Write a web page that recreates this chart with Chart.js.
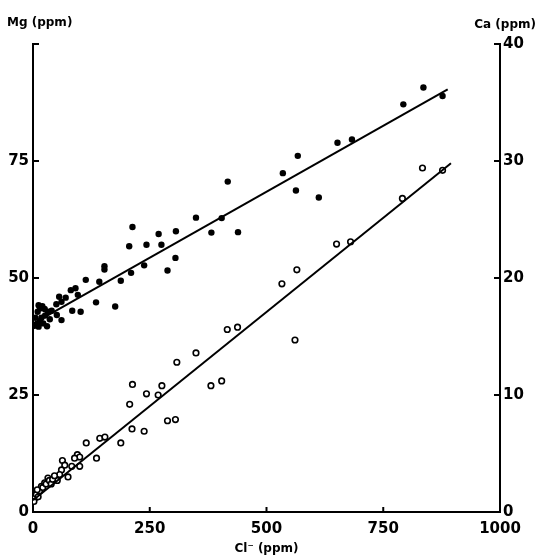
<!DOCTYPE html>
<html>
<head>
<meta charset="utf-8">
<script src="https://cdn.jsdelivr.net/npm/chart.js@4"></script>
<style>
  body{ margin:0; background:#fff; }
  #wrap{ width:538px; height:560px; position:relative; }
</style>
</head>
<body>
<div id="wrap"><canvas id="chart"></canvas></div>
<script>

/* DATA */

// Mg (filled dots, left axis)
const mgX = [
  836, 877, 793, 683, 652, 567, 535, 563, 612,
  417, 349, 404, 439, 382, 213, 269, 306, 206, 243, 275, 305, 288, 238, 210,
  153, 153, 142, 188, 113, 135, 176, 102, 84, 91, 81, 96, 70, 56, 61, 50, 51, 61,
  3, 8, 12, 15, 18, 22, 26, 30, 10, 15, 20, 25, 32, 36, 5, 12, 40
];
const mgY = [
  90.7, 88.9, 87.1, 79.6, 78.9, 76.1, 72.4, 68.7, 67.2,
  70.6, 62.9, 62.8, 59.8, 59.7, 60.9, 59.4, 60.0, 56.8, 57.1, 57.1, 54.3, 51.6, 52.7, 51.1,
  52.5, 51.8, 49.2, 49.4, 49.6, 44.8, 43.9, 42.8, 43.0, 47.8, 47.4, 46.4, 45.8, 46.0, 44.9, 44.4, 42.1, 41.0,
  39.8, 40.2, 39.6, 40.8, 41.5, 40.3, 42.0, 39.7, 42.8, 43.5, 44.0, 43.4, 42.8, 41.2, 41.5, 44.2, 43.0
];

// Ca (open circles, right axis)
const caX = [
  834, 877, 791, 650, 680, 565, 533, 561,
  416, 438, 349, 308, 213, 276, 243, 268, 381, 404, 207, 288, 305, 212, 238, 188,
  143, 154, 136, 114, 95, 100, 89, 63, 100, 68, 61, 57, 75, 52, 83,
  4, 7, 11, 14, 18, 21, 25, 28, 32, 35, 39, 42, 2, 9, 46
];
const caY = [
  29.4, 29.2, 26.8, 22.9, 23.1, 20.7, 19.5, 14.7,
  15.6, 15.8, 13.6, 12.8, 10.9, 10.8, 10.1, 10.0, 10.8, 11.2, 9.2, 7.8, 7.9, 7.1, 6.9, 5.9,
  6.3, 6.4, 4.6, 5.9, 4.9, 4.7, 4.6, 4.4, 3.9, 4.0, 3.6, 3.2, 3.0, 2.7, 3.9,
  1.2, 1.5, 1.3, 1.8, 2.2, 2.1, 2.5, 2.4, 2.9, 2.7, 2.4, 2.8, 0.9, 1.9, 3.1
];

// fitted lines (end points)
const mgLineX = [5, 888];
const mgLineY = [40.5, 90.3];
const caLineX = [0, 895];
const caLineY = [1.0, 29.8];

// axes
const xTicks = [0, 250, 500, 750, 1000];
const mgTicks = [0, 25, 50, 75, 100];
const caTicks = [0, 10, 20, 30, 40];

const toPoints = (xs, ys) => xs.map((x, i) => ({ x: x, y: ys[i] }));

const FONT = "'DejaVu Sans', sans-serif";

/* PLUGIN: inward tick marks + top axis labels */

const extras = {
  id: "extras",
  afterDraw(chart){

    const ctx = chart.ctx;
    const area = chart.chartArea;
    const sx = chart.scales.x;
    const sm = chart.scales.yMg;
    const sc = chart.scales.yCa;

    ctx.save();
    ctx.strokeStyle = "#000";
    ctx.lineWidth = 2;

    mgTicks.forEach(v => {
      const y = sm.getPixelForValue(v);
      ctx.beginPath();
      ctx.moveTo(area.left, y);
      ctx.lineTo(area.left + 6, y);
      ctx.stroke();
    });

    caTicks.forEach(v => {
      const y = sc.getPixelForValue(v);
      ctx.beginPath();
      ctx.moveTo(area.right - 6, y);
      ctx.lineTo(area.right, y);
      ctx.stroke();
    });

    xTicks.slice(1, -1).forEach(v => {
      const x = sx.getPixelForValue(v);
      ctx.beginPath();
      ctx.moveTo(x, area.bottom);
      ctx.lineTo(x, area.bottom - 5);
      ctx.stroke();
    });

    ctx.fillStyle = "#000";
    ctx.font = "bold 12px " + FONT;
    ctx.textBaseline = "middle";
    ctx.textAlign = "left";
    ctx.fillText("Mg (ppm)", 7, 23);
    ctx.textAlign = "right";
    ctx.fillText("Ca (ppm)", 536, 25);

    ctx.restore();
  }
};

/* CHART */

new Chart(document.getElementById("chart"), {

  type: "scatter",

  data: {
    datasets: [
      {
        label: "Mg line",
        type: "line",
        data: toPoints(mgLineX, mgLineY),
        yAxisID: "yMg",
        borderColor: "#000",
        borderWidth: 2,
        pointRadius: 0,
        fill: false
      },
      {
        label: "Ca line",
        type: "line",
        data: toPoints(caLineX, caLineY),
        yAxisID: "yCa",
        borderColor: "#000",
        borderWidth: 2,
        pointRadius: 0,
        fill: false
      },
      {
        label: "Mg",
        data: toPoints(mgX, mgY),
        yAxisID: "yMg",
        pointRadius: 3.2,
        pointBackgroundColor: "#000",
        pointBorderColor: "#000",
        pointBorderWidth: 0
      },
      {
        label: "Ca",
        data: toPoints(caX, caY),
        yAxisID: "yCa",
        pointRadius: 2.8,
        pointBackgroundColor: "#fff",
        pointBorderColor: "#000",
        pointBorderWidth: 1.6
      }
    ]
  },

  options: {
    responsive: true,
    maintainAspectRatio: false,
    animation: false,
    layout: { padding: { top: 44, left: 0, right: 0, bottom: 0 } },
    plugins: {
      legend: { display: false },
      tooltip: { enabled: false }
    },
    scales: {
      x: {
        type: "linear",
        min: 0,
        max: 1000,
        afterBuildTicks: s => { s.ticks = xTicks.map(v => ({ value: v })); },
        afterFit: s => { s.height = 48; },
        grid: { display: false, drawTicks: false },
        border: { display: true, color: "#000", width: 2 },
        ticks: {
          color: "#000",
          padding: 8,
          maxRotation: 0,
          callback: v => String(v),
          font: { family: FONT, size: 15, weight: "bold" }
        },
        title: {
          display: true,
          text: "Cl\u207B (ppm)",
          color: "#000",
          padding: { top: 0, bottom: 4 },
          font: { family: FONT, size: 12, weight: "bold" }
        }
      },
      yMg: {
        type: "linear",
        position: "left",
        min: 0,
        max: 100,
        afterBuildTicks: s => { s.ticks = mgTicks.map(v => ({ value: v })); },
        afterFit: s => { s.width = 33; },
        grid: { display: false, drawTicks: false },
        border: { display: true, color: "#000", width: 2 },
        ticks: {
          color: "#000",
          padding: 4,
          callback: v => v === 100 ? "" : String(v),
          font: { family: FONT, size: 15, weight: "bold" }
        }
      },
      yCa: {
        type: "linear",
        position: "right",
        min: 0,
        max: 40,
        afterBuildTicks: s => { s.ticks = caTicks.map(v => ({ value: v })); },
        afterFit: s => { s.width = 38; },
        grid: { display: false, drawTicks: false },
        border: { display: true, color: "#000", width: 2 },
        ticks: {
          color: "#000",
          padding: 3,
          callback: v => String(v),
          font: { family: FONT, size: 15, weight: "bold" }
        }
      }
    }
  },

  plugins: [extras]

});

</script>
</body>
</html>
